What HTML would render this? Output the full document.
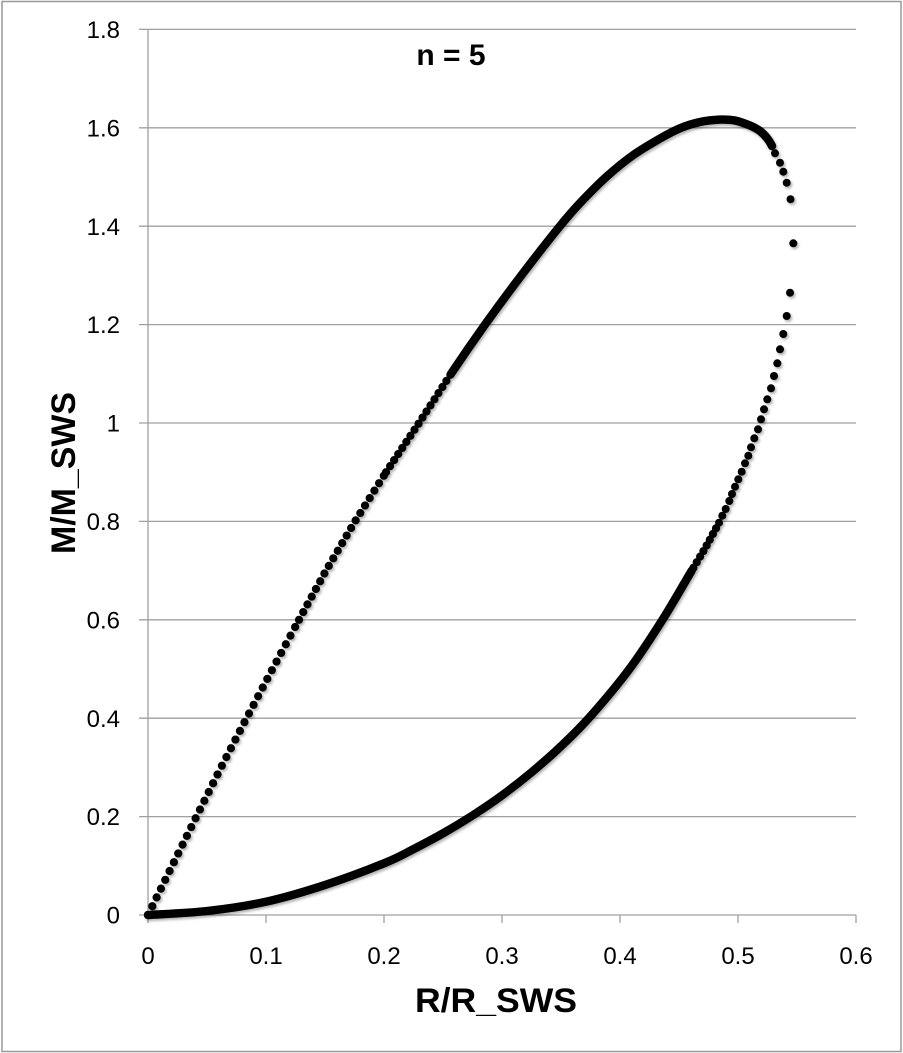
<!DOCTYPE html>
<html>
<head>
<meta charset="utf-8">
<style>
  html, body { margin: 0; padding: 0; background: #ffffff; }
  svg { display: block; }
  text { font-family: "Liberation Sans", Arial, sans-serif; fill: #000; }
</style>
</head>
<body>
<svg width="903" height="1053" viewBox="0 0 903 1053" xmlns="http://www.w3.org/2000/svg">
  <defs>
    <filter id="sh" x="-5%" y="-5%" width="110%" height="110%">
      <feDropShadow dx="1.5" dy="2" stdDeviation="1.2" flood-color="#000" flood-opacity="0.3"/>
    </filter>
  </defs>
  <rect x="0" y="0" width="903" height="1053" fill="#fff"/>
  <!-- outer frame -->
  <rect x="2" y="1.5" width="899" height="1050" fill="none" stroke="#999" stroke-width="1.5"/>

  <!-- horizontal gridlines -->
  <g stroke="#a0a0a0" stroke-width="1.3">
    <line x1="139" y1="29.4" x2="856" y2="29.4"/>
    <line x1="139" y1="127.8" x2="856" y2="127.8"/>
    <line x1="139" y1="226.2" x2="856" y2="226.2"/>
    <line x1="139" y1="324.6" x2="856" y2="324.6"/>
    <line x1="139" y1="423" x2="856" y2="423"/>
    <line x1="139" y1="521.4" x2="856" y2="521.4"/>
    <line x1="139" y1="619.8" x2="856" y2="619.8"/>
    <line x1="139" y1="718.2" x2="856" y2="718.2"/>
    <line x1="139" y1="816.6" x2="856" y2="816.6"/>
    <line x1="139" y1="915" x2="856" y2="915"/>
    <!-- y axis -->
    <line x1="148" y1="29.4" x2="148" y2="923"/>
    <!-- x ticks -->
    <line x1="266" y1="915" x2="266" y2="923"/>
    <line x1="384" y1="915" x2="384" y2="923"/>
    <line x1="502" y1="915" x2="502" y2="923"/>
    <line x1="620" y1="915" x2="620" y2="923"/>
    <line x1="738" y1="915" x2="738" y2="923"/>
    <line x1="856" y1="915" x2="856" y2="923"/>
  </g>

  <!-- y tick labels -->
  <g font-size="24" text-anchor="end">
    <text x="120" y="38">1.8</text>
    <text x="120" y="136.4">1.6</text>
    <text x="120" y="234.8">1.4</text>
    <text x="120" y="333.2">1.2</text>
    <text x="120" y="431.6">1</text>
    <text x="120" y="530">0.8</text>
    <text x="120" y="628.4">0.6</text>
    <text x="120" y="726.8">0.4</text>
    <text x="120" y="825.2">0.2</text>
    <text x="120" y="923.6">0</text>
  </g>
  <!-- x tick labels -->
  <g font-size="24" text-anchor="middle">
    <text x="148" y="964">0</text>
    <text x="266" y="964">0.1</text>
    <text x="384" y="964">0.2</text>
    <text x="502" y="964">0.3</text>
    <text x="620" y="964">0.4</text>
    <text x="738" y="964">0.5</text>
    <text x="856" y="964">0.6</text>
  </g>

  <!-- titles -->
  <text x="451" y="65" font-size="30" font-weight="bold" text-anchor="middle">n = 5</text>
  <text x="496" y="1012" font-size="34" font-weight="bold" text-anchor="middle" textLength="162" lengthAdjust="spacingAndGlyphs">R/R_SWS</text>
  <text x="75" y="473" font-size="34" font-weight="bold" text-anchor="middle" textLength="162" lengthAdjust="spacingAndGlyphs" transform="rotate(-90 75 473)">M/M_SWS</text>

  <!-- data series -->
  <g filter="url(#sh)" fill="none" stroke="#000" stroke-linecap="round" stroke-linejoin="round">
    <!-- upper branch dotted -->
    <polyline stroke-width="8.2" stroke-dasharray="0 9.8"
      points="148,915 172,866 196.4,816.6 221,767.4 246.5,718.2 272.5,669 299,619.8"/>
    <polyline stroke-width="8.2" stroke-dasharray="0 8.8"
      points="299,619.8 326,570.6 355,521.4 386,472.2"/>
    <polyline stroke-width="8.2" stroke-dasharray="0 7.3"
      points="386,472.2 419,423 451,373.8"/>
    <!-- upper branch dense (smooth) -->
    <path stroke-width="8.4" d="M451,373.8
      C462,357.4 473.2,341.2 485,324.6
      C496.8,308.1 509.5,290.9 522,274.5
      C534.5,258.1 550.3,237.9 560,226
      C569.7,214.1 572.2,211.3 580,203
      C587.8,194.8 597.8,184.5 606.7,176.5
      C615.6,168.5 624.4,161.3 633.3,155
      C642.2,148.7 652.2,143 660,138.5
      C667.8,134 673.3,131 680,128.2
      C686.7,125.5 693.3,123.4 700,122
      C706.7,120.6 714.2,119.9 720,119.6
      C725.8,119.4 730,119.5 735,120.5
      C740,121.5 745.8,123.8 750,125.5
      C754.2,127.3 757.2,128.9 760,131
      C762.8,133.1 765,135.5 767,138
      C769,140.5 770.7,143.5 772,146"/>
    <!-- lower branch dotted -->
    <polyline stroke-width="8.2" stroke-dasharray="0 6.5"
      points="716,528.3 705,548.5 691.7,570.6"/>
    <!-- lower branch dense (smooth) -->
    <path stroke-width="8.4" d="M691.7,570.6
      C684.6,582.5 672.9,603.4 662.5,619.8
      C652.1,636.2 641.4,652.9 629.4,669
      C617.4,685.1 601.9,703.3 590.5,716.2
      C579.1,729.1 570.8,736.9 561,746.2
      C551.2,755.6 541.3,764.1 531.5,772.3
      C521.7,780.5 511.8,788.2 502,795.4
      C492.2,802.6 482.3,809.2 472.5,815.5
      C462.7,821.8 452.8,827.7 443,833.3
      C433.2,838.9 423.3,844.1 413.5,849.1
      C403.7,854.1 398.8,857.3 384,863.3
      C369.3,869.3 344.7,878.6 325,885
      C305.3,891.4 285.7,897.4 266,901.7
      C246.3,906 226.7,908.8 207,911
      C187.3,913.2 157.8,914.3 148,915"/>
  </g>
  <g filter="url(#sh)" fill="#000">
    <circle cx="775" cy="153.3" r="4"/>
    <circle cx="780" cy="162.7" r="4"/>
    <circle cx="783.3" cy="171.7" r="4"/>
    <circle cx="786.7" cy="182.7" r="4"/>
    <circle cx="790.5" cy="199.2" r="4"/>
    <circle cx="793.3" cy="243.3" r="4"/>
    <circle cx="790" cy="292.7" r="4"/>
    <circle cx="786.7" cy="316" r="4"/>
    <circle cx="783.3" cy="334" r="4"/>
    <circle cx="780" cy="349.3" r="4"/>
    <circle cx="777.3" cy="363.3" r="4"/>
    <circle cx="774" cy="376" r="4"/>
    <circle cx="771" cy="388.3" r="4"/>
    <circle cx="767.3" cy="399.3" r="4"/>
    <circle cx="764" cy="409.3" r="4"/>
    <circle cx="761" cy="419.3" r="4"/>
    <circle cx="758" cy="429.3" r="4"/>
    <circle cx="754.3" cy="438.3" r="4"/>
    <circle cx="751" cy="447.3" r="4"/>
    <circle cx="748.3" cy="455.7" r="4"/>
    <circle cx="745" cy="463.3" r="4"/>
    <circle cx="741.7" cy="471.7" r="4"/>
    <circle cx="738.3" cy="479.3" r="4"/>
    <circle cx="735" cy="486.7" r="4"/>
    <circle cx="732" cy="494" r="4"/>
    <circle cx="729.3" cy="501" r="4"/>
    <circle cx="725.7" cy="509" r="4"/>
    <circle cx="722.3" cy="515.7" r="4"/>
    <circle cx="719" cy="522.7" r="4"/>
  </g>
</svg>
</body>
</html>
